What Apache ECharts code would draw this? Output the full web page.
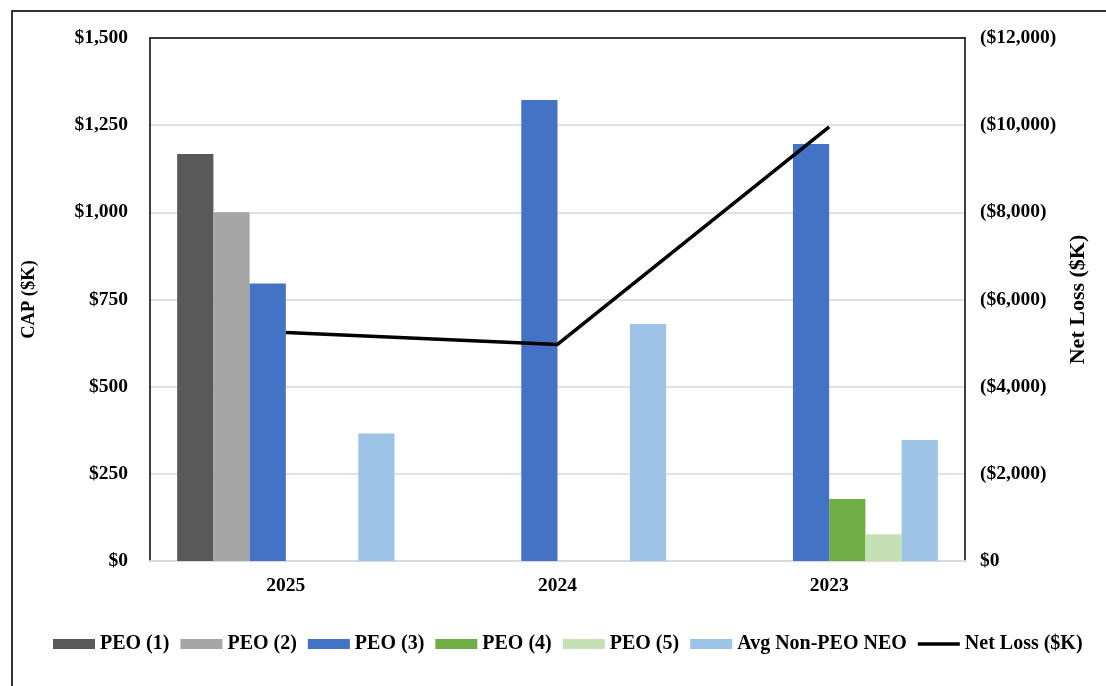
<!DOCTYPE html>
<html>
<head>
<meta charset="utf-8">
<script src="https://cdn.jsdelivr.net/npm/echarts@6/dist/echarts.min.js"></script>
<style>
  html, body { margin: 0; padding: 0; background: #fff; }
  #chart { width: 1106px; height: 686px; }
</style>
</head>
<body>
<div id="chart"></div>
<script>
// Fiscal years, most recent first
const years = ['2025', '2024', '2023'];

// Compensation actually paid ($K)
const peo1 = [1167, 0, 0];
const peo2 = [1000, 0, 0];
const peo3 = [796, 1322, 1196];
const peo4 = [0, 0, 178];
const peo5 = [0, 0, 77];
const avgNonPeoNeo = [366, 680, 347];

// Net loss ($K), plotted on the right axis
const netLoss = [5240, 4970, 9960];

const seriesNames = ['PEO (1)', 'PEO (2)', 'PEO (3)', 'PEO (4)', 'PEO (5)', 'Avg Non-PEO NEO', 'Net Loss ($K)'];
const barColors = ['#595959', '#a5a5a5', '#4472c4', '#70ad47', '#c5e0b4', '#9dc3e6'];
const barData = [peo1, peo2, peo3, peo4, peo5, avgNonPeoNeo];

const FONT = '"Liberation Serif", "Times New Roman", serif';
const textBase = { fontFamily: FONT, fontWeight: 'bold', color: '#000' };

const fmtMoney = v => '$' + Math.round(v).toLocaleString('en-US');

const chart = echarts.init(document.getElementById('chart'));

const series = barData.map((d, i) => ({
  name: seriesNames[i],
  type: 'bar',
  yAxisIndex: 0,
  data: d,
  barGap: '0%',
  barCategoryGap: '20%',
  itemStyle: { color: barColors[i] }
}));

series.push({
  name: seriesNames[6],
  type: 'line',
  yAxisIndex: 1,
  data: netLoss,
  symbol: 'none',
  lineStyle: { color: '#000', width: 3.5 },
  itemStyle: { color: '#000' },
  z: 5
});

chart.setOption({
  backgroundColor: '#fff',
  animation: false,
  graphic: [{
    type: 'rect',
    shape: { x: 12, y: 11, width: 1110, height: 690 },
    style: { fill: 'none', stroke: '#333', lineWidth: 2 },
    silent: true
  }],
  grid: { left: 150, right: 141, top: 38, bottom: 125, containLabel: false },
  legend: {
    top: 629,
    left: 48,
    itemWidth: 42,
    itemHeight: 10,
    itemGap: 11,
    textStyle: Object.assign({ fontSize: 20 }, textBase),
    data: seriesNames.map((n, i) => i < 6
      ? { name: n, icon: 'rect' }
      : { name: n, icon: 'path://M0,0H42V3.5H0Z' })
  },
  xAxis: [{
    type: 'category',
    data: years,
    axisLine: { onZero: false, lineStyle: { color: '#d9d9d9', width: 2 } },
    axisTick: { show: false },
    axisLabel: Object.assign({ fontSize: 19.5, margin: 15 }, textBase)
  }, {
    type: 'category',
    data: years,
    position: 'top',
    axisLine: { onZero: false, lineStyle: { color: '#000', width: 1.5 } },
    axisTick: { show: false },
    axisLabel: { show: false }
  }],
  yAxis: [{
    type: 'value',
    min: 0, max: 1500, interval: 250,
    name: 'CAP ($K)',
    nameLocation: 'middle',
    nameGap: 111,
    nameTextStyle: Object.assign({ fontSize: 18.5 }, textBase),
    axisLine: { show: true, lineStyle: { color: '#000', width: 1.5 } },
    axisTick: { show: false },
    splitLine: { lineStyle: { color: '#d9d9d9', width: 1.5 } },
    axisLabel: Object.assign({ fontSize: 19.5, margin: 22, formatter: fmtMoney }, textBase)
  }, {
    type: 'value',
    min: 0, max: 12000, interval: 2000,
    name: 'Net Loss ($K)',
    nameLocation: 'middle',
    nameGap: 101,
    nameTextStyle: Object.assign({ fontSize: 22 }, textBase),
    axisLine: { show: true, lineStyle: { color: '#000', width: 1.5 } },
    axisTick: { show: false },
    splitLine: { show: false },
    axisLabel: Object.assign({
      fontSize: 19.5, margin: 15,
      formatter: v => v === 0 ? '$0' : '(' + fmtMoney(v) + ')'
    }, textBase)
  }],
  series: series
});
</script>
</body>
</html>
